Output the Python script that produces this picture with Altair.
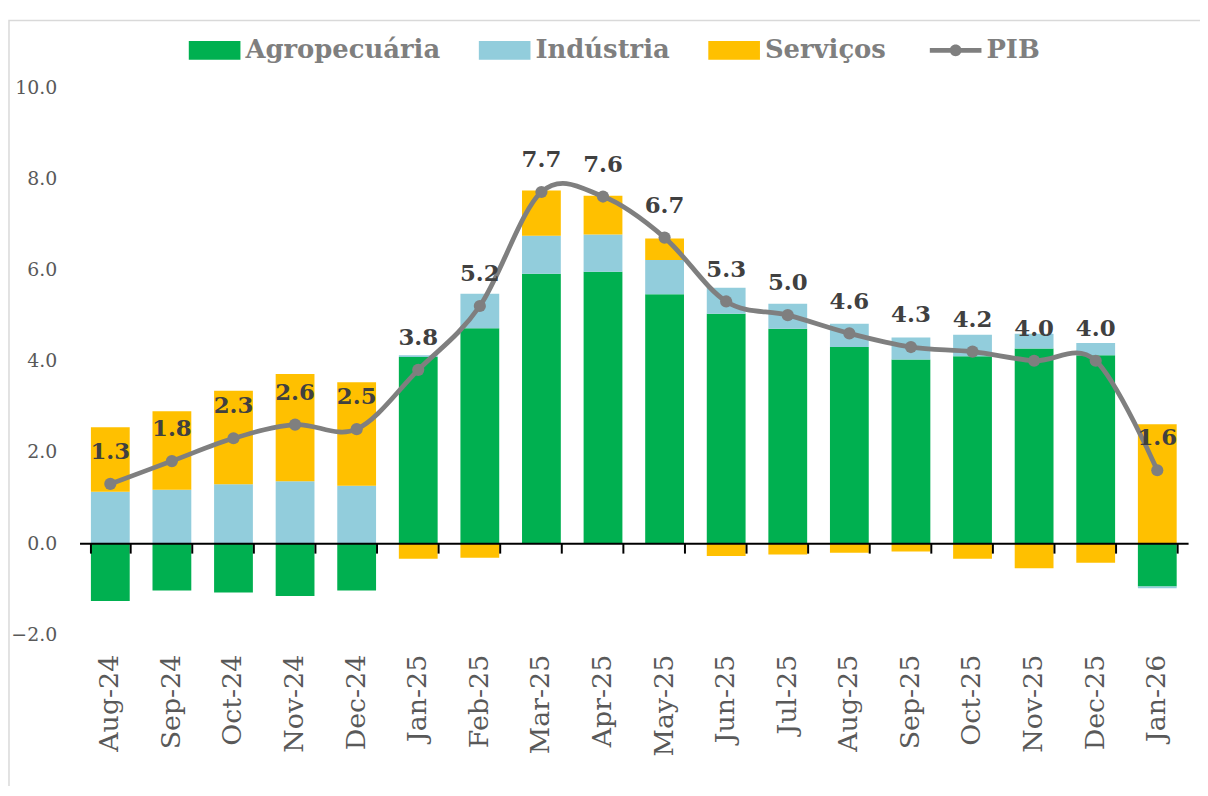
import altair as alt
import pandas as pd

months = ["Aug-24", "Sep-24", "Oct-24", "Nov-24", "Dec-24", "Jan-25", "Feb-25", "Mar-25",
          "Apr-25", "May-25", "Jun-25", "Jul-25", "Aug-25", "Sep-25", "Oct-25", "Nov-25",
          "Dec-25", "Jan-26"]
agro = [-1.27, -1.04, -1.08, -1.16, -1.04, 4.08, 4.71, 5.91, 5.95, 5.46, 5.03, 4.70,
        4.30, 4.03, 4.10, 4.27, 4.12, -0.95]
ind = [1.13, 1.17, 1.29, 1.36, 1.26, 0.04, 0.76, 0.83, 0.82, 0.75, 0.57, 0.55,
       0.51, 0.48, 0.47, 0.32, 0.27, -0.04]
serv = [1.41, 1.72, 2.05, 2.35, 2.27, -0.34, -0.32, 0.99, 0.85, 0.47, -0.28, -0.25,
        -0.21, -0.18, -0.34, -0.55, -0.43, 2.61]
pib = [1.3, 1.8, 2.3, 2.6, 2.5, 3.8, 5.2, 7.7, 7.6, 6.7, 5.3, 5.0, 4.6, 4.3, 4.2, 4.0, 4.0, 1.6]

series = ["Agropecuária", "Indústria", "Serviços"]
colors = ["#00b050", "#92cddc", "#ffc000"]
line_name = "PIB"
line_color = "#7f7f7f"

rows = []
for i, m in enumerate(months):
    for k, (name, vals) in enumerate(zip(series, [agro, ind, serv])):
        rows.append({"mes": m, "serie": name, "valor": vals[i], "ordem": k})
df_bars = pd.DataFrame(rows)
df_pib = pd.DataFrame({"mes": months, "pib": pib, "idx": list(range(len(months)))})

W, H = 1116, 551
YMIN, YMAX = -2, 10
zero_offset = -H * (0 - YMIN) / (YMAX - YMIN)

FONT = "DejaVu Serif"
xscale = alt.Scale(paddingInner=0.37, paddingOuter=0.185)
yscale = alt.Scale(domain=[YMIN, YMAX], nice=False, zero=False)

rect_path = "M-1,-0.365H1V0.365H-1Z"
pib_path = ("M-1,-0.09H1V0.09H-1Z M0.23,0A0.23,0.23 0 1,1 -0.23,0"
            "A0.23,0.23 0 1,1 0.23,0Z")

legend_common = dict(
    title=None, orient="none", direction="horizontal", symbolSize=2704,
    symbolStrokeWidth=0, labelFont=FONT, labelFontWeight="bold", labelFontSize=26,
    labelColor="#7f7f7f", labelOffset=5, columnPadding=38, padding=0, labelLimit=500,
)

frame = alt.Chart(pd.DataFrame({"a": [0]})).mark_rect(
    filled=False, stroke="#d9d9d9", strokeWidth=1.5
).encode(
    x=alt.value(-71), x2=alt.value(W + 200), y=alt.value(-67), y2=alt.value(H + 300)
)

bars = alt.Chart(df_bars).mark_bar().encode(
    x=alt.X("mes:N", sort=months, scale=xscale, title=None,
            axis=alt.Axis(orient="bottom", labelAngle=-90, labelFont=FONT, labelFontSize=27,
                          labelColor="#595959", labelPadding=20, domain=False, ticks=False,
                          tickSize=0, grid=False)),
    y=alt.Y("valor:Q", stack="zero", scale=yscale, title=None,
            axis=alt.Axis(values=[-2, 0, 2, 4, 6, 8, 10], format=".1f", labelFont=FONT,
                          labelFontSize=19, labelColor="#595959", domain=False, ticks=False,
                          tickSize=0, grid=False, labelPadding=23)),
    color=alt.Color("serie:N", scale=alt.Scale(domain=series, range=colors),
                    legend=alt.Legend(legendX=110, legendY=-63, symbolType=rect_path,
                                      **legend_common)),
    order=alt.Order("ordem:Q"),
)

legend_pib = alt.Chart(pd.DataFrame({"k": [line_name]})).mark_point(
    filled=True, color=line_color, opacity=0
).encode(
    x=alt.value(0), y=alt.value(0),
    shape=alt.Shape("k:N", scale=alt.Scale(domain=[line_name], range=[pib_path]),
                    legend=alt.Legend(legendX=856, legendY=-63, symbolFillColor=line_color,
                                      symbolOpacity=1, **legend_common)),
)

line = alt.Chart(df_pib).mark_line(
    color=line_color, strokeWidth=4.8, interpolate="cardinal"
).encode(
    x=alt.X("mes:N", sort=months, scale=xscale, title=None,
            axis=alt.Axis(orient="bottom", offset=zero_offset, labels=False, domain=True,
                          domainColor="black", domainWidth=2, ticks=True, tickBand="extent",
                          tickSize=10, tickColor="black", tickWidth=2, grid=False, zindex=1)),
    y=alt.Y("pib:Q", scale=yscale, title=None),
    order=alt.Order("idx:Q"),
)

points = alt.Chart(df_pib).mark_circle(color=line_color, size=150, opacity=1).encode(
    x=alt.X("mes:N", sort=months, scale=xscale, axis=None),
    y=alt.Y("pib:Q", scale=yscale, title=None),
)

labels = alt.Chart(df_pib).mark_text(
    dy=-32, font=FONT, fontWeight="bold", fontSize=23, color="#404040"
).encode(
    x=alt.X("mes:N", sort=months, scale=xscale, axis=None),
    y=alt.Y("pib:Q", scale=yscale, title=None),
    text=alt.Text("pib:Q", format=".1f"),
)

chart = alt.layer(frame, bars, legend_pib, line, points, labels).resolve_axis(
    x="independent"
).properties(
    width=W, height=H,
    autosize=alt.AutoSizeParams(type="none"),
    padding={"left": 72, "top": 77, "right": 12, "bottom": 150},
).configure_view(stroke=None)

chart.save("out.html", embed_options={"renderer": "svg", "actions": False})
